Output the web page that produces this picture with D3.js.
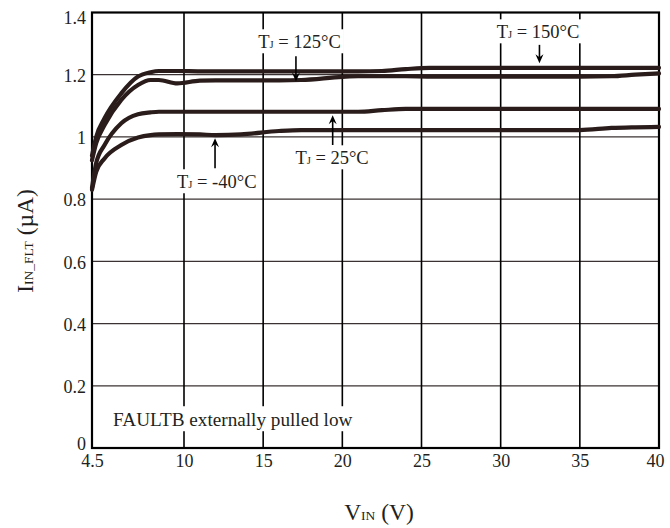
<!DOCTYPE html>
<html>
<head>
<meta charset="utf-8">
<script src="https://cdn.jsdelivr.net/npm/d3@7"></script>
<style>
  html, body { margin: 0; padding: 0; background: #fff; }
  svg text { font-family: "Liberation Serif", "Times New Roman", serif; fill: #231f20; }
</style>
</head>
<body>
<svg id="chart" width="670" height="528"></svg>
<script>
// ---- data ----
const vin = [4.5, 4.75, 5.25, 6.25, 7.25, 8, 8.5, 9.6, 11, 12, 13.6, 16, 17.4, 20, 21, 22.5, 24, 25.5, 30, 35, 37, 38.5, 40];
const iTj150 = [0.94, 1.0, 1.06, 1.14, 1.194, 1.208, 1.212, 1.212, 1.211, 1.211, 1.211, 1.211, 1.211, 1.211, 1.211, 1.212, 1.218, 1.222, 1.222, 1.222, 1.222, 1.222, 1.222];
const iTj125 = [0.925, 0.98, 1.038, 1.119, 1.167, 1.183, 1.183, 1.172, 1.181, 1.182, 1.182, 1.182, 1.183, 1.193, 1.195, 1.195, 1.195, 1.194, 1.194, 1.194, 1.195, 1.2, 1.204];
const iTj25 = [0.836, 0.916, 0.974, 1.044, 1.073, 1.079, 1.081, 1.081, 1.081, 1.081, 1.081, 1.081, 1.081, 1.081, 1.081, 1.086, 1.09, 1.09, 1.09, 1.09, 1.09, 1.09, 1.09];
const iTjm40 = [0.83, 0.888, 0.931, 0.974, 0.998, 1.006, 1.008, 1.009, 1.008, 1.006, 1.008, 1.019, 1.022, 1.022, 1.022, 1.022, 1.022, 1.022, 1.022, 1.022, 1.029, 1.031, 1.032];
const xTicks = [4.5, 10, 15, 20, 25, 30, 35, 40];
const xTickLabels = ["4.5", "10", "15", "20", "25", "30", "35", "40"];
const yTicks = [0, 0.2, 0.4, 0.6, 0.8, 1, 1.2, 1.4];
const yTickLabels = ["0", "0.2", "0.4", "0.6", "0.8", "1", "1.2", "1.4"];
const seriesNames = ["150", "125", "25", "-40"];
// annotation: temperature label, text anchor (V, µA), arrow x, arrow from/to (µA)
const annTemp = ["125", "150", "25", "-40"];
const annTextX = [17.3, 32.36, 19.35, 12.07];
const annTextY = [1.285, 1.317, 0.912, 0.835];
const annArrowX = [17.07, 32.45, 19.39, 11.96];
const annArrowFrom = [1.259, 1.296, 0.974, 0.899];
const annArrowTo = [1.178, 1.237, 1.070, 0.996];
const noteText = "FAULTB externally pulled low";

// ---- layout ----
const svg = d3.select("#chart");
const mLeft = 92, mRight = 659, mTop = 12.5, mBottom = 448;
const x = d3.scaleLinear().domain([4.5, 10, 40]).range([mLeft, 184, mRight]);
const y = d3.scaleLinear().domain([0, 1.4]).range([mBottom, mTop]);

// horizontal grid
svg.append("g").selectAll("line").data(yTicks.filter(d => d > 0 && d < 1.4)).join("line")
  .attr("x1", mLeft).attr("x2", mRight).attr("y1", d => y(d)).attr("y2", d => y(d))
  .attr("stroke", "#3b3333").attr("stroke-width", 1.3);
// vertical grid
svg.append("g").selectAll("line").data(xTicks.filter(d => d > 4.5 && d < 40)).join("line")
  .attr("x1", d => x(d)).attr("x2", d => x(d)).attr("y1", mTop).attr("y2", mBottom)
  .attr("stroke", "#000").attr("stroke-width", 1.6);

// frame
svg.append("rect").attr("x", mLeft).attr("y", mTop).attr("width", mRight - mLeft).attr("height", mBottom - mTop)
  .attr("fill", "none").attr("stroke", "#000").attr("stroke-width", 2.2);

// axes tick labels (using d3 axes, no lines)
const xAxis = d3.axisBottom(x).tickValues(xTicks).tickFormat((d, i) => xTickLabels[i]).tickSize(0).tickPadding(6);
const gx = svg.append("g").attr("transform", `translate(0,${mBottom})`).call(xAxis);
gx.select(".domain").remove();
gx.selectAll("text").attr("font-size", 18).attr("font-family", "Liberation Serif").attr("fill", "#2b2727");
gx.selectAll(".tick").filter(d => d === 40).select("text").attr("dx", -4);

const yAxis = d3.axisLeft(y).tickValues(yTicks).tickFormat((d, i) => yTickLabels[i]).tickSize(0).tickPadding(6);
const gy = svg.append("g").attr("transform", `translate(${mLeft},0)`).call(yAxis);
gy.select(".domain").remove();
gy.selectAll("text").attr("font-size", 18).attr("dy", "0.38em").attr("font-family", "Liberation Serif").attr("fill", "#2b2727");
gy.selectAll(".tick").filter(d => d === 0).select("text").attr("dy", "0.1em");
gy.selectAll(".tick").filter(d => d === 1.4).select("text").attr("dy", "0.62em");

// annotation white boxes
const annG = svg.append("g");
annTemp.forEach((t, i) => {
  const g = annG.append("g");
  const txt = g.append("text").attr("x", x(annTextX[i])).attr("y", y(annTextY[i]))
    .attr("text-anchor", "middle").attr("font-size", 18.5);
  txt.append("tspan").text("T");
  txt.append("tspan").attr("font-size", 10.5).text("J");
  txt.append("tspan").text(" = " + t + "°C");
  const bb = txt.node().getBBox();
  g.insert("rect", "text").attr("x", bb.x - 3).attr("y", bb.y - 3).attr("width", bb.width + 6).attr("height", bb.height + 4).attr("fill", "#fff");
});
// note
const noteG = svg.append("g");
const note = noteG.append("text").attr("x", x(5.76)).attr("y", y(0.07)).attr("font-size", 19.2).text(noteText);
const nb = note.node().getBBox();
noteG.insert("rect", "text").attr("x", nb.x - 3).attr("y", nb.y - 3).attr("width", nb.width + 6).attr("height", nb.height + 4).attr("fill", "#fff");

// curves
const series = [iTj150, iTj125, iTj25, iTjm40];
const line = d3.line().x((d, i) => x(vin[i])).y(d => y(d)).curve(d3.curveMonotoneX);
svg.append("g").selectAll("path").data(series).join("path")
  .attr("d", d => line(d)).attr("fill", "none")
  .attr("stroke", "#2a1c1a").attr("stroke-width", 4.2).attr("stroke-linecap", "round").attr("stroke-linejoin", "round");

// arrows
annTemp.forEach((t, i) => {
  const ax = x(annArrowX[i]), y0 = y(annArrowFrom[i]), y1 = y(annArrowTo[i]);
  const dir = Math.sign(y1 - y0);
  const headLen = 9, headW = 4;
  svg.append("line").attr("x1", ax).attr("x2", ax).attr("y1", y0).attr("y2", y1 - dir * headLen * 0.6)
    .attr("stroke", "#000").attr("stroke-width", 1.6);
  svg.append("path").attr("d", d3.line()([[ax - headW, y1 - dir * headLen], [ax, y1], [ax + headW, y1 - dir * headLen], [ax, y1 - dir * headLen * 0.65]]) + "Z")
    .attr("fill", "#000");
});

// axis titles
const xt = svg.append("text").attr("x", 379).attr("y", 520).attr("text-anchor", "middle").attr("font-size", 23.5);
xt.append("tspan").text("V");
xt.append("tspan").attr("font-size", 13.5).text("IN");
xt.append("tspan").text(" (V)");

const yt = svg.append("text").attr("transform", "translate(32.5,241) rotate(-90)").attr("text-anchor", "middle").attr("font-size", 23.5);
yt.append("tspan").text("I");
yt.append("tspan").attr("font-size", 13.5).text("IN_FLT");
yt.append("tspan").text(" (µA)");
</script>
</body>
</html>
